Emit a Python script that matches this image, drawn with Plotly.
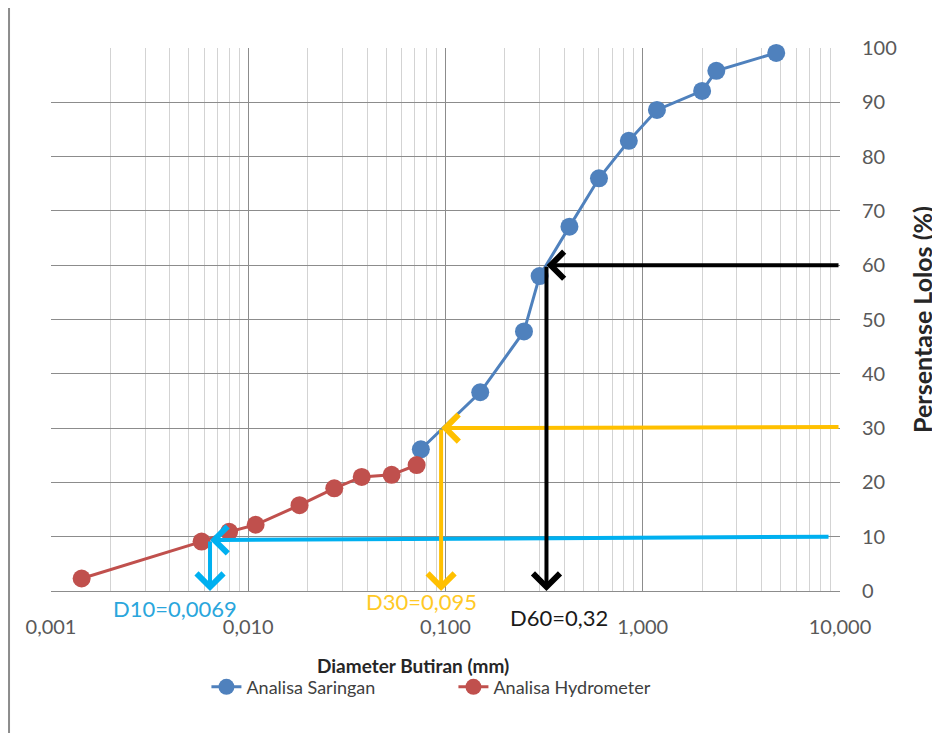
import math
import plotly.graph_objects as go

# ---- data ----
saringan_x = [4.75, 2.36, 2.0, 1.18, 0.85, 0.60, 0.425, 0.30, 0.25, 0.15, 0.075]
saringan_y = [99.1, 95.8, 92.1, 88.6, 82.9, 76.0, 67.1, 58.0, 47.8, 36.6, 26.1]

hydro_x = [0.0714, 0.0533, 0.0376, 0.0273, 0.0182, 0.0109, 0.0080, 0.0058, 0.00143]
hydro_y = [23.2, 21.4, 21.0, 18.9, 15.8, 12.2, 10.9, 9.1, 2.3]

x_tick_vals = [0.001, 0.01, 0.1, 1, 10]
x_tick_text = ["0,001", "0,010", "0,100", "1,000", "10,000"]
y_tick_vals = [0, 10, 20, 30, 40, 50, 60, 70, 80, 90, 100]

# characteristic diameters (D10, D30, D60)
d_labels = ["D10=0,0069", "D30=0,095", "D60=0,32"]
d_arrow_x = [0.0064, 0.095, 0.325]      # where the arrows were drawn
d_head_y = [9.4, 30, 60]
d_tail_x = [8.9, 10, 10]
d_tail_y = [10.0, 30.2, 60]
d_colors = ["#00B0F0", "#FFC000", "#000000"]
d_text_colors = ["#2AA6DC", "#FFC926", "#1A1A1A"]

FONT = "Lato"

fig = go.Figure()
fig.add_trace(go.Scatter(
    x=saringan_x, y=saringan_y, mode="lines+markers", name="Analisa Saringan",
    line=dict(color="#4F81BD", width=3),
    marker=dict(color="#4F81BD", size=18), cliponaxis=False))
fig.add_trace(go.Scatter(
    x=hydro_x, y=hydro_y, mode="lines+markers", name="Analisa Hydrometer",
    line=dict(color="#C0504D", width=3),
    marker=dict(color="#C0504D", size=18), cliponaxis=False))

annotations = []
for lab, xv, hy, tx, ty, col, tcol, xs, ys in zip(
        d_labels, d_arrow_x, d_head_y, d_tail_x, d_tail_y, d_colors, d_text_colors,
        [-35, -20, 13], [-17, -10, -26]):
    lx = math.log10(xv)
    # horizontal arrow from the right edge to the curve
    annotations.append(dict(x=lx, y=hy, ax=math.log10(tx), ay=ty, xref="x", yref="y",
                            axref="x", ayref="y", text="", showarrow=True,
                            arrowhead=4, arrowsize=1.3, arrowwidth=4, arrowcolor=col))
    # vertical arrow down to the axis
    annotations.append(dict(x=lx, y=0, ax=lx, ay=hy, xref="x", yref="y",
                            axref="x", ayref="y", text="", showarrow=True,
                            arrowhead=4, arrowsize=1.3, arrowwidth=4, arrowcolor=col))
    annotations.append(dict(x=lx, y=0, xref="x", yref="y", text=lab, showarrow=False,
                            xshift=xs, yshift=ys, xanchor="center", yanchor="middle",
                            font=dict(family=FONT, size=22, color=tcol)))

annotations.append(dict(x=0.4594, y=-0.138, xref="paper", yref="paper",
                        text="<b>Diameter Butiran (mm)</b>", showarrow=False,
                        xanchor="center", yanchor="middle",
                        font=dict(family=FONT, size=19, color="#262626")))

fig.update_layout(
    template="none",
    width=932, height=725,
    margin=dict(l=43, r=100, t=40, b=142, autoexpand=False),
    paper_bgcolor="white", plot_bgcolor="white",
    font=dict(family=FONT, color="#595959"),
    showlegend=True,
    legend=dict(orientation="h", x=0.197, y=-0.177, xanchor="left", yanchor="middle",
                font=dict(family=FONT, size=18, color="#404040"),
                entrywidth=202, bgcolor="rgba(0,0,0,0)"),
    annotations=annotations,
    shapes=[dict(type="line", xref="paper", yref="paper", x0=-0.0532, x1=-0.0532,
                 y0=1.0755, y1=-0.27, line=dict(color="#8C8C8C", width=2))],
)

fig.update_xaxes(
    type="log", range=[-3, 1], automargin=False,
    tickmode="array", tickvals=x_tick_vals, ticktext=x_tick_text,
    ticks="outside", ticklen=18, tickcolor="rgba(0,0,0,0)",
    tickfont=dict(family=FONT, size=20, color="#595959"),
    showgrid=True, gridcolor="#8C8C8C", gridwidth=1,
    minor=dict(dtick="D1", showgrid=True, gridcolor="#D3D3D3", gridwidth=1),
    showline=True, linecolor="#8C8C8C", linewidth=1, mirror=False,
    zeroline=False,
)
fig.update_yaxes(
    side="right", range=[0, 100], tickmode="array", tickvals=y_tick_vals,
    automargin=False,
    ticks="outside", ticklen=17, tickcolor="rgba(0,0,0,0)",
    tickfont=dict(family=FONT, size=20, color="#595959"),
    showgrid=True, gridcolor="#8C8C8C", gridwidth=1,
    zeroline=False, showline=False,
    title=dict(text="<b>Persentase Lolos (%)</b>", standoff=18,
               font=dict(family=FONT, size=25, color="#262626")),
)

fig.write_html("out.html")
